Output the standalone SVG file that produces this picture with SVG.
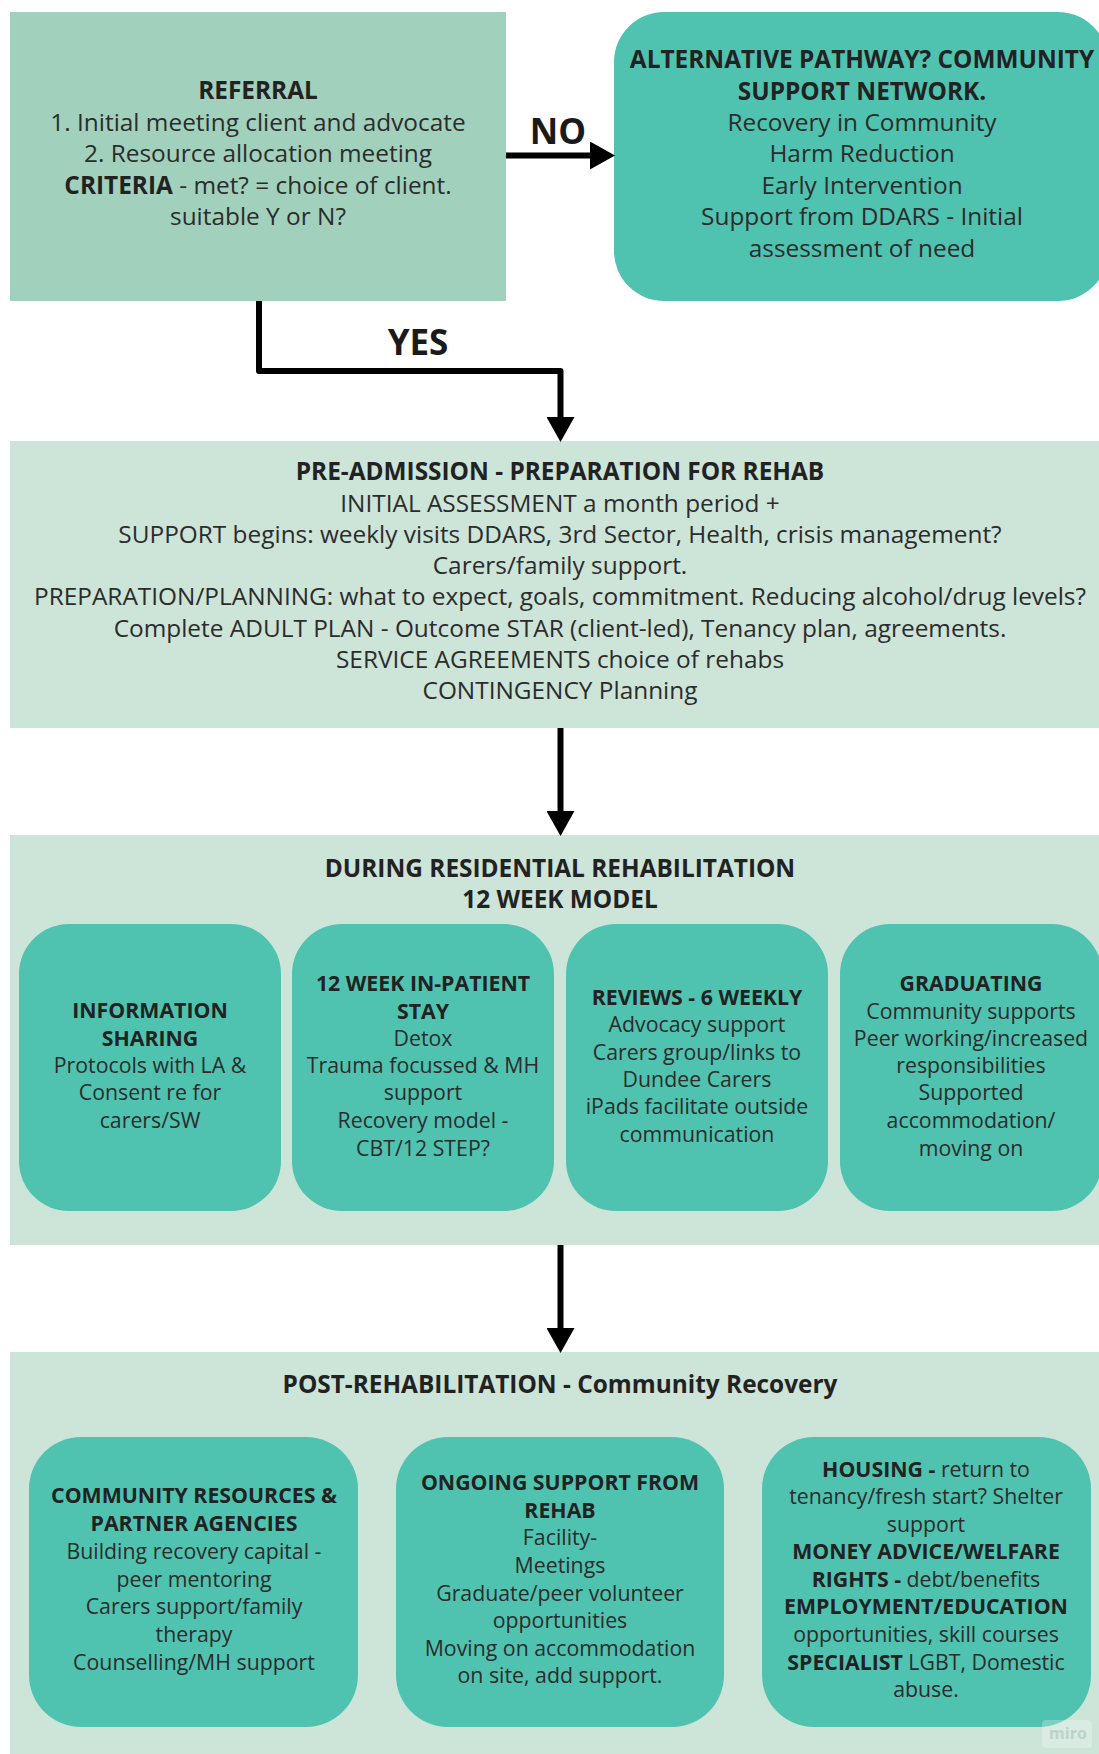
<svg xmlns="http://www.w3.org/2000/svg" width="1099" height="1754" viewBox="0 0 1099 1754">
<style>
  text { font-family: "Open Sans", "Noto Sans", "Liberation Sans", sans-serif; fill: #222; text-anchor: middle; }
  .h { font-size: 24.4px; font-weight: bold; }
  .t { font-size: 24.4px; fill: #2c2c2c; }
  .sh { font-size: 21.3px; font-weight: bold; }
  .st { font-size: 21.3px; fill: #2c2c2c; }
  .b { font-weight: bold; fill: #222; }
  .lbl { font-size: 35px; font-weight: bold; fill: #1a1a1a; }
  .mint { fill: #a1d1bc; }
  .teal { fill: #4fc2b0; }
  .pale { fill: #cde4d8; }
  .conn { fill: none; stroke: #000; stroke-width: 6; stroke-linejoin: round; }
</style>
<defs>
  <marker id="ah" markerUnits="userSpaceOnUse" markerWidth="26" markerHeight="28" refX="0" refY="14" orient="auto">
    <path d="M0,0 L25,14 L0,28 Z" fill="#000"/>
  </marker>
</defs>
<rect width="1099" height="1754" fill="#fff"/>

<g id="referral">
  <rect class="mint" x="10" y="12" width="496" height="289"/>
  <text class="h" x="258" y="99">REFERRAL</text>
  <text class="t" x="258" y="130.5">1. Initial meeting client and advocate</text>
  <text class="t" x="258" y="162">2. Resource allocation meeting</text>
  <text class="t" x="258" y="193.5"><tspan class="b">CRITERIA</tspan> - met? = choice of client.</text>
  <text class="t" x="258" y="225">suitable Y or N?</text>
</g>

<g id="alternative">
  <rect class="teal" x="614" y="12" width="494" height="289" rx="50"/>
  <text class="h" x="862" y="68">ALTERNATIVE PATHWAY? COMMUNITY</text>
  <text class="h" x="862" y="100">SUPPORT NETWORK.</text>
  <text class="t" x="862" y="130.5">Recovery in Community</text>
  <text class="t" x="862" y="162">Harm Reduction</text>
  <text class="t" x="862" y="193.5">Early Intervention</text>
  <text class="t" x="862" y="225">Support from DDARS - Initial</text>
  <text class="t" x="862" y="257">assessment of need</text>
</g>

<g id="pre-admission">
  <rect class="pale" x="10" y="441" width="1100" height="287"/>
  <text class="h" x="560" y="480">PRE-ADMISSION - PREPARATION FOR REHAB</text>
  <text class="t" x="560" y="512">INITIAL ASSESSMENT a month period +</text>
  <text class="t" x="560" y="543">SUPPORT begins: weekly visits DDARS, 3rd Sector, Health, crisis management?</text>
  <text class="t" x="560" y="574">Carers/family support.</text>
  <text class="t" x="560" y="605">PREPARATION/PLANNING: what to expect, goals, commitment. Reducing alcohol/drug levels?</text>
  <text class="t" x="560" y="637">Complete ADULT PLAN - Outcome STAR (client-led), Tenancy plan, agreements.</text>
  <text class="t" x="560" y="668">SERVICE AGREEMENTS choice of rehabs</text>
  <text class="t" x="560" y="699">CONTINGENCY Planning</text>
</g>

<g id="during">
  <rect class="pale" x="10" y="835" width="1100" height="410"/>
  <text class="h" x="560" y="877">DURING RESIDENTIAL REHABILITATION</text>
  <text class="h" x="560" y="908">12 WEEK MODEL</text>
</g>

<g id="information-sharing">
  <rect class="teal" x="19" y="924" width="262" height="287" rx="50"/>
  <text class="sh" x="150" y="1018">INFORMATION</text>
  <text class="sh" x="150" y="1046">SHARING</text>
  <text class="st" x="150" y="1073">Protocols with LA &amp;</text>
  <text class="st" x="150" y="1100">Consent re for</text>
  <text class="st" x="150" y="1128">carers/SW</text>
</g>

<g id="inpatient-stay">
  <rect class="teal" x="292" y="924" width="262" height="287" rx="50"/>
  <text class="sh" x="423" y="991">12 WEEK IN-PATIENT</text>
  <text class="sh" x="423" y="1019">STAY</text>
  <text class="st" x="423" y="1046">Detox</text>
  <text class="st" x="423" y="1073">Trauma focussed &amp; MH</text>
  <text class="st" x="423" y="1100">support</text>
  <text class="st" x="423" y="1128">Recovery model -</text>
  <text class="st" x="423" y="1156">CBT/12 STEP?</text>
</g>

<g id="reviews">
  <rect class="teal" x="566" y="924" width="262" height="287" rx="50"/>
  <text class="sh" x="697" y="1005">REVIEWS - 6 WEEKLY</text>
  <text class="st" x="697" y="1032">Advocacy support</text>
  <text class="st" x="697" y="1060">Carers group/links to</text>
  <text class="st" x="697" y="1087">Dundee Carers</text>
  <text class="st" x="697" y="1114">iPads facilitate outside</text>
  <text class="st" x="697" y="1142">communication</text>
</g>

<g id="graduating">
  <rect class="teal" x="840" y="924" width="262" height="287" rx="50"/>
  <text class="sh" x="971" y="991">GRADUATING</text>
  <text class="st" x="971" y="1019">Community supports</text>
  <text class="st" x="971" y="1046">Peer working/increased</text>
  <text class="st" x="971" y="1073">responsibilities</text>
  <text class="st" x="971" y="1100">Supported</text>
  <text class="st" x="971" y="1128">accommodation/</text>
  <text class="st" x="971" y="1156">moving on</text>
</g>

<g id="post-rehabilitation">
  <rect class="pale" x="10" y="1352" width="1100" height="410"/>
  <text class="h" x="560" y="1393">POST-REHABILITATION - Community Recovery</text>
</g>

<g id="community-resources">
  <rect class="teal" x="29" y="1437" width="329" height="290" rx="52"/>
  <text class="sh" x="194" y="1503">COMMUNITY RESOURCES &amp;</text>
  <text class="sh" x="194" y="1531">PARTNER AGENCIES</text>
  <text class="st" x="194" y="1559">Building recovery capital -</text>
  <text class="st" x="194" y="1587">peer mentoring</text>
  <text class="st" x="194" y="1614">Carers support/family</text>
  <text class="st" x="194" y="1642">therapy</text>
  <text class="st" x="194" y="1670">Counselling/MH support</text>
</g>

<g id="ongoing-support">
  <rect class="teal" x="396" y="1437" width="328" height="290" rx="52"/>
  <text class="sh" x="560" y="1490">ONGOING SUPPORT FROM</text>
  <text class="sh" x="560" y="1518">REHAB</text>
  <text class="st" x="560" y="1545">Facility-</text>
  <text class="st" x="560" y="1573">Meetings</text>
  <text class="st" x="560" y="1601">Graduate/peer volunteer</text>
  <text class="st" x="560" y="1628">opportunities</text>
  <text class="st" x="560" y="1656">Moving on accommodation</text>
  <text class="st" x="560" y="1683">on site, add support.</text>
</g>

<g id="housing-money">
  <rect class="teal" x="762" y="1437" width="329" height="290" rx="52"/>
  <text class="st" x="926" y="1477"><tspan class="b">HOUSING -</tspan> return to</text>
  <text class="st" x="926" y="1504">tenancy/fresh start? Shelter</text>
  <text class="st" x="926" y="1532">support</text>
  <text class="sh" x="926" y="1559">MONEY ADVICE/WELFARE</text>
  <text class="st" x="926" y="1587"><tspan class="b">RIGHTS -</tspan> debt/benefits</text>
  <text class="sh" x="926" y="1614">EMPLOYMENT/EDUCATION</text>
  <text class="st" x="926" y="1642">opportunities, skill courses</text>
  <text class="st" x="926" y="1670"><tspan class="b">SPECIALIST</tspan> LGBT, Domestic</text>
  <text class="st" x="926" y="1697">abuse.</text>
</g>

<g id="connectors">
  <path class="conn" d="M506,155.5 H590" marker-end="url(#ah)"/>
  <text class="lbl" x="558" y="144">NO</text>
  <path class="conn" d="M259,301 V371 H560.5 V417" marker-end="url(#ah)"/>
  <text class="lbl" x="418" y="355">YES</text>
  <path class="conn" d="M560.5,728 V811" marker-end="url(#ah)"/>
  <path class="conn" d="M560.5,1245 V1328" marker-end="url(#ah)"/>
</g>

<g id="watermark">
  <rect x="1042" y="1720" width="50" height="28" rx="4" fill="#fff" opacity="0.25"/>
  <text x="1068" y="1739" style="font-size:16px; font-weight:bold; fill:#bcd3c9;">miro</text>
</g>
</svg>
